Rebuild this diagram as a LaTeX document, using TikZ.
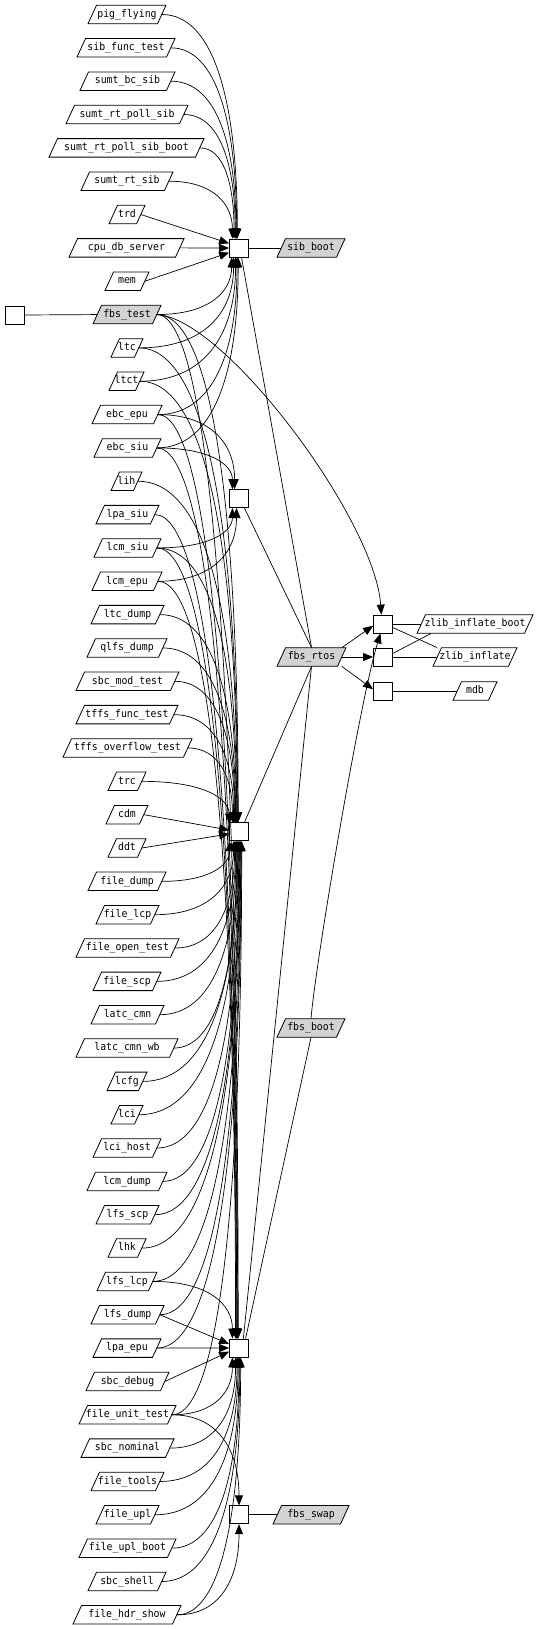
\documentclass[tikz,border=0pt]{standalone}
\usepackage{fontspec}
\newfontfamily\gvfont[FakeStretch=0.93]{DejaVu Sans Mono}
\usetikzlibrary{arrows.meta,calc}
\definecolor{gvgray}{RGB}{211,211,211}
% #1 name, #2 left x, #3 right x, #4 y, #5 text, #6 fill
\newcommand{\pn}[6]{%
  \path[pg, fill=#6] (#2,#4+9.25) -- (#3-8.5,#4+9.25) -- (#3,#4-9.25) -- (#2+8.5,#4-9.25) -- cycle;
  \node[lbl, minimum width={(#3-#2-8.5)*1pt}] (#1) at ({(#2+#3)/2},#4) {#5};
}
\newcommand{\rowy}[1]{14.5+33.34*#1}
\newcommand{\dep}[3]{\draw[dep] let \p1=(#1.east), \p2=(#2.#3) in (\p1) .. controls ({\x1+0.7*(\x2-\x1)},\y1) and (\x2,{0.6*\y1+0.4*\y2}) .. (\p2);}
\newcommand{\sdep}[3]{\draw[dep] (#1.east) -- (#2.#3);}
\begin{document}
\begin{tikzpicture}[x=1pt,y=-1pt,
  lbl/.style={inner sep=0pt, minimum height=18.5pt, font=\gvfont\fontsize{10.6}{11}\selectfont, text height=7.5pt, text depth=2pt},
  box/.style={draw, fill=white, minimum width=19pt, minimum height=18pt, inner sep=0pt, line width=0.8pt},
  dep/.style={-{Triangle[length=10pt,width=8pt]}, line width=0.7pt},
  lnk/.style={line width=0.7pt},
  pg/.style={draw, line width=0.8pt}
]
\useasboundingbox[fill=white] (0,0) rectangle (538,1629);

% left column
\pn{pigflying}{88}{166}{\rowy{0}}{pig\_flying}{white}
\pn{sibfunctest}{77}{175}{\rowy{1}}{sib\_func\_test}{white}
\pn{sumtbcsib}{80}{175}{\rowy{2}}{sumt\_bc\_sib}{white}
\pn{sumtrtpollsib}{66}{188}{\rowy{3}}{sumt\_rt\_poll\_sib}{white}
\pn{sumtrtpollsibboot}{49}{204}{\rowy{4}}{sumt\_rt\_poll\_sib\_boot}{white}
\pn{sumtrtsib}{81}{173}{\rowy{5}}{sumt\_rt\_sib}{white}
\pn{trd}{109}{145}{\rowy{6}}{trd}{white}
\pn{cpudbserver}{69}{184}{\rowy{7}}{cpu\_db\_server}{white}
\pn{mem}{105}{149}{\rowy{8}}{mem}{white}
\pn{fbstest}{93}{161}{\rowy{9}}{fbs\_test}{gvgray}
\pn{ltc}{111}{143}{\rowy{10}}{ltc}{white}
\pn{ltct}{109}{144}{\rowy{11}}{ltct}{white}
\pn{ebcepu}{92}{162}{\rowy{12}}{ebc\_epu}{white}
\pn{ebcsiu}{94}{161}{\rowy{13}}{ebc\_siu}{white}
\pn{lih}{111}{142}{\rowy{14}}{lih}{white}
\pn{lpasiu}{96}{159}{\rowy{15}}{lpa\_siu}{white}
\pn{lcmsiu}{94}{161}{\rowy{16}}{lcm\_siu}{white}
\pn{lcmepu}{92}{162}{\rowy{17}}{lcm\_epu}{white}
\pn{ltcdump}{91}{164}{\rowy{18}}{ltc\_dump}{white}
\pn{qlfsdump}{87}{167}{\rowy{19}}{qlfs\_dump}{white}
\pn{sbcmodtest}{76}{179}{\rowy{20}}{sbc\_mod\_test}{white}
\pn{tffsfunctest}{76}{178}{\rowy{21}}{tffs\_func\_test}{white}
\pn{tffsoverflowtest}{63}{192}{\rowy{22}}{tffs\_overflow\_test}{white}
\pn{trc}{108}{146}{\rowy{23}}{trc}{white}
\pn{cdm}{106}{148}{\rowy{24}}{cdm}{white}
\pn{ddt}{108}{146}{\rowy{25}}{ddt}{white}
\pn{filedump}{88}{166}{\rowy{26}}{file\_dump}{white}
\pn{filelcp}{96}{159}{\rowy{27}}{file\_lcp}{white}
\pn{fileopentest}{76}{179}{\rowy{28}}{file\_open\_test}{white}
\pn{filescp}{93}{161}{\rowy{29}}{file\_scp}{white}
\pn{latccmn}{91}{164}{\rowy{30}}{latc\_cmn}{white}
\pn{latccmnwb}{76}{178}{\rowy{31}}{latc\_cmn\_wb}{white}
\pn{lcfg}{107}{147}{\rowy{32}}{lcfg}{white}
\pn{lci}{111}{143}{\rowy{33}}{lci}{white}
\pn{lcihost}{93}{161}{\rowy{34}}{lci\_host}{white}
\pn{lcmdump}{87}{167}{\rowy{35}}{lcm\_dump}{white}
\pn{lfsscp}{96}{159}{\rowy{36}}{lfs\_scp}{white}
\pn{lhk}{108}{146}{\rowy{37}}{lhk}{white}
\pn{lfslcp}{97}{157}{\rowy{38}}{lfs\_lcp}{white}
\pn{lfsdump}{91}{164}{\rowy{39}}{lfs\_dump}{white}
\pn{lpaepu}{93}{161}{\rowy{40}}{lpa\_epu}{white}
\pn{sbcdebug}{86}{169}{\rowy{41}}{sbc\_debug}{white}
\pn{fileunittest}{79}{176}{\rowy{42}}{file\_unit\_test}{white}
\pn{sbcnominal}{81}{174}{\rowy{43}}{sbc\_nominal}{white}
\pn{filetools}{91}{164}{\rowy{44}}{file\_tools}{white}
\pn{fileupl}{96}{159}{\rowy{45}}{file\_upl}{white}
\pn{fileuplboot}{79}{176}{\rowy{46}}{file\_upl\_boot}{white}
\pn{sbcshell}{88}{166}{\rowy{47}}{sbc\_shell}{white}
\pn{filehdrshow}{73}{181}{\rowy{48}}{file\_hdr\_show}{white}

% right nodes
\pn{sibboot}{277}{345}{248}{sib\_boot}{gvgray}
\pn{fbsrtos}{277}{346}{657}{fbs\_rtos}{gvgray}
\pn{fbsboot}{277}{345}{1028}{fbs\_boot}{gvgray}
\pn{fbsswap}{273}{349}{1514.8}{fbs\_swap}{gvgray}
\pn{zib}{417}{533}{624}{zlib\_inflate\_boot}{white}
\pn{zi}{433}{517}{657}{zlib\_inflate}{white}
\pn{mdb}{453}{497}{691}{mdb}{white}

% boxes
\node[box] (lbox) at (14.5,315) {};
\node[box] (B1) at (239,248) {};
\node[box] (B2) at (239,498.6) {};
\node[box] (B3) at (239,831.8) {};
\node[box] (B4) at (239,1348) {};
\node[box] (B5) at (239,1514.8) {};
\node[box] (RB1) at (383,624) {};
\node[box] (RB2) at (383,657) {};
\node[box] (RB3) at (383,691) {};

% undirected links
\draw[lnk] (B1.east) -- (sibboot.west);
\draw[lnk] (lbox.east) -- (fbstest.west);
\draw[lnk] (B5.east) -- (fbsswap.west);
\draw[lnk] (RB1.east) -- (zib.west);
\draw[lnk] (RB1.-20) -- (zi.north west);
\draw[lnk] (RB2.20) -- ($(zib.south west)+(10,0)$);
\draw[lnk] (RB2.east) -- (zi.west);
\draw[lnk] (RB3.east) -- (mdb.west);
\draw[lnk] (B1.-75) -- (fbsrtos.north);
\draw[lnk] (B2.-60) -- (fbsrtos.north);
\draw[lnk] (B3.60) -- (fbsrtos.south);
\draw[lnk] (B4.65) -- (fbsrtos.south);
\draw[lnk] (fbsboot.south) -- (B4.55);

% right arrows
\draw[dep] (fbsrtos.north east) -- (RB1.190);
\draw[dep] (fbsrtos.east) -- (RB2.west);
\draw[dep] (fbsrtos.south east) -- (RB3.170);
\draw[dep] (fbsboot.north) .. controls (316,960) and (360,700) .. (RB1.-105);
\draw[dep] (fbstest.east) .. controls (225,318) and (375,520) .. (RB1.100);

% B1
\dep{pigflying}{B1}{100}
\dep{sibfunctest}{B1}{104}
\dep{sumtbcsib}{B1}{108}
\dep{sumtrtpollsib}{B1}{112}
\dep{sumtrtpollsibboot}{B1}{118}
\dep{sumtrtsib}{B1}{125}
\sdep{trd}{B1}{155}
\sdep{cpudbserver}{B1}{west}
\sdep{mem}{B1}{205}
\dep{fbstest}{B1}{232}
\dep{ltc}{B1}{240}
\dep{ltct}{B1}{250}
\dep{ebcepu}{B1}{258}
\dep{ebcsiu}{B1}{265}

% B2
\dep{ebcepu}{B2}{115}
\dep{ebcsiu}{B2}{125}
\dep{lcmsiu}{B2}{235}
\dep{lcmepu}{B2}{255}

% B3
\dep{fbstest}{B3}{95}
\dep{ltc}{B3}{98}
\dep{ltct}{B3}{101}
\dep{lih}{B3}{104}
\dep{lcmsiu}{B3}{107}
\dep{ltcdump}{B3}{110}
\dep{qlfsdump}{B3}{113}
\dep{sbcmodtest}{B3}{116}
\dep{tffsfunctest}{B3}{120}
\dep{tffsoverflowtest}{B3}{125}
\dep{trc}{B3}{140}
\sdep{cdm}{B3}{170}
\sdep{ddt}{B3}{192}
\dep{filedump}{B3}{225}
\dep{filelcp}{B3}{240}
\dep{fileopentest}{B3}{245}
\dep{filescp}{B3}{250}
\dep{latccmn}{B3}{253}
\dep{latccmnwb}{B3}{256}
\dep{lcfg}{B3}{259}
\dep{lci}{B3}{262}
\dep{lcihost}{B3}{265}
\dep{lcmdump}{B3}{268}
\dep{lfsscp}{B3}{271}
\dep{lhk}{B3}{274}
\dep{lfslcp}{B3}{277}
\dep{lfsdump}{B3}{280}
\dep{lpaepu}{B3}{283}
\dep{fileunittest}{B3}{286}

% B4
\dep{fbstest}{B4}{95}
\dep{ebcepu}{B4}{98}
\dep{ebcsiu}{B4}{101}
\dep{lpasiu}{B4}{104}
\dep{lcmsiu}{B4}{107}
\dep{lcmepu}{B4}{110}
\dep{lfslcp}{B4}{125}
\sdep{lfsdump}{B4}{158}
\sdep{lpaepu}{B4}{west}
\sdep{sbcdebug}{B4}{200}
\dep{fileunittest}{B4}{235}
\dep{sbcnominal}{B4}{250}
\dep{filetools}{B4}{258}
\dep{fileupl}{B4}{264}
\dep{fileuplboot}{B4}{270}
\dep{sbcshell}{B4}{275}
\dep{filehdrshow}{B4}{280}

% B5
\dep{fileunittest}{B5}{90}
\dep{filehdrshow}{B5}{-90}
\end{tikzpicture}
\end{document}
